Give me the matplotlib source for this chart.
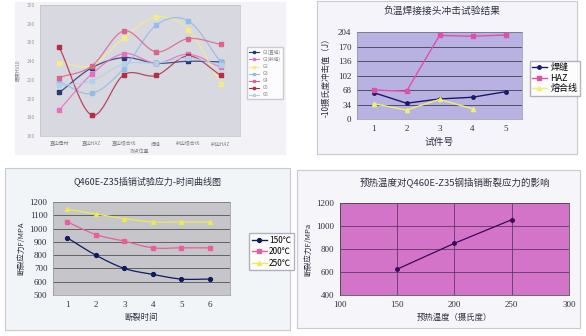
import numpy as np
import matplotlib.pyplot as plt
from matplotlib.patches import Rectangle

plt.rcParams['font.family'] = ['Noto Sans CJK SC', 'DejaVu Sans']

# 硬度分布 (左上)
pos_labels = ['直边母材', '直边HAZ', '直边熔合线', '焊缝', '斜边熔合线', '斜边HAZ']
hv_names = ['G1(直缝)', 'G1(斜缝)', 'G2', 'G3', 'G4', 'G5', 'G6']
hv_g1a = [206.5, 232.8, 243.8, 237.8, 239.9, 239.2]
hv_g1b = [188.0, 226.0, 248.0, 237.8, 247.4, 233.5]
hv_g2 = [238.5, 235.3, 265.0, 287.0, 273.7, 216.0]
hv_g3 = [217.9, 205.5, 232.1, 278.3, 282.9, 239.2]
hv_g4 = [222.5, 234.6, 272.3, 249.9, 264.1, 258.0]
hv_g5 = [254.8, 182.4, 225.4, 224.7, 245.6, 225.0]
hv_g6 = [214.0, 219.0, 237.0, 238.0, 243.0, 236.0]

# 冲击试验 (右上)
test_no = [1, 2, 3, 4, 5]
imp_weld = [62, 37, 47, 51, 64]
imp_haz = [68, 65, 196, 194, 197]
imp_fusion = [36, 21, 46, 24]

# 应力-时间 (左下)
crack_time = [1, 2, 3, 4, 5, 6]
st_150 = [930, 800, 700, 655, 620, 620]
st_200 = [1050, 955, 905, 855, 855, 855]
st_250 = [1145, 1110, 1075, 1050, 1050, 1050]

# 预热温度 (右下)
preheat = [150, 200, 250]
frac_stress = [625, 850, 1055]

W, H = 586, 336
fig = plt.figure(figsize=(W / 100, H / 100), dpi=100)
fig.patch.set_facecolor('white')
serif = ['Liberation Serif', 'DejaVu Serif']


def box(x0, y0, x1, y1):
    return [x0 / W, 1 - y1 / H, (x1 - x0) / W, (y1 - y0) / H]


def panel(x0, y0, x1, y1, color, edge='#c8c8d0'):
    fig.patches.append(Rectangle((x0 / W, 1 - y1 / H), (x1 - x0) / W, (y1 - y0) / H,
                                 transform=fig.transFigure, facecolor=color,
                                 edgecolor=edge, linewidth=0.8, zorder=-5))


def smooth(x, y, n=20):
    # Catmull-Rom 曲线, 只用于画平滑线
    x = np.asarray(x, float)
    y = np.asarray(y, float)
    px = np.concatenate([[2 * x[0] - x[1]], x, [2 * x[-1] - x[-2]]])
    py = np.concatenate([[2 * y[0] - y[1]], y, [2 * y[-1] - y[-2]]])
    xs, ys = [], []
    t = np.linspace(0, 1, n)
    for i in range(1, len(px) - 2):
        for arr, out in ((px, xs), (py, ys)):
            p0, p1, p2, p3 = arr[i - 1:i + 3]
            out.extend(0.5 * (2 * p1 + (-p0 + p2) * t + (2 * p0 - 5 * p1 + 4 * p2 - p3) * t ** 2
                              + (-p0 + 3 * p1 - 3 * p2 + p3) * t ** 3))
    return xs, ys


def serif_ticks(ax):
    for lab in ax.get_xticklabels() + ax.get_yticklabels():
        lab.set_family(serif)


# ---------- 左上: 硬度 ----------
panel(15, 2, 285, 154, '#f3f3f7', edge='#f3f3f7')
ax1 = fig.add_axes(box(40, 5, 240, 136))
ax1.set_facecolor('#d8d8e0')
xi = np.arange(len(pos_labels))
hv_series = [hv_g1a, hv_g1b, hv_g2, hv_g3, hv_g4, hv_g5, hv_g6]
hv_colors = ['#28367a', '#e470c0', '#f4ec88', '#94bce8', '#dc6488', '#b03046', '#b0d0ec']
for name, vals, c in zip(hv_names, hv_series, hv_colors):
    sx, sy = smooth(xi, vals)
    ax1.plot(sx, sy, color=c, lw=0.9, alpha=0.85)
    ax1.plot(xi, vals, ls='none', marker='s', ms=2.5, color=c, label=name)
ax1.set_xlim(-0.6, 5.6)
ax1.set_ylim(160, 300)
ax1.set_yticks(range(160, 301, 20))
ax1.set_xticks(xi)
ax1.set_xticklabels(pos_labels, fontsize=3.5, color='#808088')
ax1.tick_params(axis='y', labelsize=3.5, colors='#9a9aa2', length=0)
ax1.tick_params(axis='x', length=0, pad=4)
ax1.set_xlabel('测点位置', fontsize=3.5, color='#808088', labelpad=2)
ax1.set_ylabel('硬度HV10', fontsize=3.5, color='#808088', labelpad=4)
for s in ax1.spines.values():
    s.set_color('#c0c0c8')
    s.set_linewidth(0.5)
handles = []
for c, name in zip(hv_colors, hv_names):
    handles.append(plt.Line2D([], [], color=c, lw=0.8, marker='s', ms=2))
fig.legend(handles, hv_names, loc='upper left', bbox_to_anchor=(245 / W, 1 - 45 / H),
           fontsize=3.3, frameon=True, edgecolor='#c0c0c8', fancybox=False,
           handlelength=2.2, labelspacing=0.45, borderpad=0.4, labelcolor='#808088')

# ---------- 右上: 冲击 ----------
panel(317, 1, 577, 154, '#f4f4fa')
fig.text(442 / W, 1 - 11 / H, '负温焊接接头冲击试验结果', ha='center', va='center',
         fontsize=7, color='#303040')
ax2 = fig.add_axes(box(357, 32, 522, 119))
ax2.set_facecolor('#b8b2e2')
ax2.plot(test_no, imp_weld, color='#1a1a6a', lw=1, marker='o', ms=2.5, label='焊缝')
ax2.plot(test_no, imp_haz, color='#e050a8', lw=1, marker='s', ms=2.5, label='HAZ')
ax2.plot(test_no[:len(imp_fusion)], imp_fusion, color='#f0f070', lw=1, marker='^', ms=3,
         label='熔合线')
ax2.set_xlim(0.5, 5.5)
ax2.set_ylim(0, 204)
ax2.set_yticks(range(0, 205, 34))
ax2.set_xticks(test_no)
ax2.yaxis.grid(True, color='#404050', lw=0.6)
ax2.set_axisbelow(True)
ax2.tick_params(labelsize=6.5, colors='#303040', length=0, pad=4)
serif_ticks(ax2)
ax2.set_xlabel('试件号', fontsize=7, color='#303040', labelpad=3)
ax2.set_ylabel('-10摄氏度冲击值（J）', fontsize=6, color='#303040', labelpad=5)
for s in ax2.spines.values():
    s.set_color('#9090a8')
    s.set_linewidth(0.5)
fig.legend(*ax2.get_legend_handles_labels(), loc='upper left',
           bbox_to_anchor=(525 / W, 1 - 56 / H), fontsize=6.5, frameon=True,
           edgecolor='#a0a0b0', fancybox=False, handlelength=1.6, labelspacing=0.15,
           borderpad=0.3, handletextpad=0.4, prop={'family': ['Noto Sans CJK SC'], 'size': 6.5})

# ---------- 左下: 应力-时间 ----------
panel(5, 168, 290, 330, '#f2f5f8')
fig.text(147 / W, 1 - 181 / H, 'Q460E-Z35插销试验应力-时间曲线图', ha='center', va='center',
         fontsize=6.5, color='#303040')
ax3 = fig.add_axes(box(53, 202, 230, 295))
ax3.set_facecolor('#c6c6ca')
st_series = [(st_150, '150℃', '#101a60', 'o'), (st_200, '200℃', '#e8609a', 's'),
             (st_250, '250℃', '#eeea50', '^')]
for vals, name, c, m in st_series:
    sx, sy = smooth(crack_time, vals)
    ax3.plot(sx, sy, color=c, lw=0.9)
    ax3.plot(crack_time, vals, ls='none', marker=m, ms=2.8, color=c)
ax3.set_xlim(0.5, 6.7)
ax3.set_ylim(500, 1200)
ax3.set_yticks(range(500, 1201, 100))
ax3.set_xticks(crack_time)
ax3.yaxis.grid(True, color='#505058', lw=0.6)
ax3.set_axisbelow(True)
ax3.tick_params(labelsize=6.5, colors='#303040', length=0, pad=4)
serif_ticks(ax3)
ax3.set_xlabel('断裂时间', fontsize=6, color='#303040', labelpad=3)
ax3.set_ylabel('断裂应力F/MPA', fontsize=5.5, color='#303040', labelpad=3)
for s in ax3.spines.values():
    s.set_color('#9090a0')
    s.set_linewidth(0.5)
h3 = [plt.Line2D([], [], color=c, lw=1, marker=m, ms=2.8) for _, _, c, m in st_series]
fig.legend(h3, [n for _, n, _, _ in st_series], loc='upper left',
           bbox_to_anchor=(245 / W, 1 - 229 / H), fontsize=6, frameon=True,
           edgecolor='#a0a0b0', fancybox=False, handlelength=1.8, labelspacing=0.3,
           borderpad=0.3, handletextpad=0.3)

# ---------- 右下: 预热温度 ----------
panel(297, 170, 580, 328, '#f6f6fa')
fig.text(455 / W, 1 - 183 / H, '预热温度对Q460E-Z35钢插销断裂应力的影响', ha='center',
         va='center', fontsize=6.8, color='#303040')
ax4 = fig.add_axes(box(340, 203, 569, 295))
ax4.set_facecolor('#d474c8')
ax4.plot(preheat, frac_stress, color='#3a0858', lw=0.9, marker='o', ms=2.5)
ax4.set_xlim(100, 300)
ax4.set_ylim(400, 1200)
ax4.set_xticks(range(100, 301, 50))
ax4.set_yticks(range(400, 1201, 200))
ax4.grid(True, color='#603868', lw=0.6)
ax4.set_axisbelow(True)
ax4.tick_params(labelsize=6.5, colors='#303040', length=0, pad=4)
serif_ticks(ax4)
ax4.set_xlabel('预热温度（摄氏度）', fontsize=6, color='#303040', labelpad=3)
ax4.set_ylabel('断裂应力F/MPa', fontsize=5.5, color='#303040', labelpad=3)
for s in ax4.spines.values():
    s.set_color('#505058')
    s.set_linewidth(0.6)

fig.savefig('out.png', dpi=100)
